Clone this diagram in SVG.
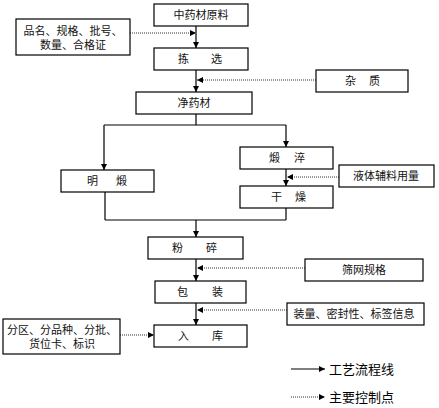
<svg xmlns="http://www.w3.org/2000/svg" width="439" height="408" viewBox="0 0 439 408">
<style>
.box{fill:#fff;stroke:#000;stroke-width:1.2}
.t{font-family:"Liberation Sans","Noto Sans CJK SC",sans-serif;font-size:11px;fill:#111}
.lg{font-family:"Liberation Sans","Noto Sans CJK SC",sans-serif;font-size:13px;fill:#000}
.s{fill:none;stroke:#000;stroke-width:1.2}
.d{fill:none;stroke:#333;stroke-width:1;stroke-dasharray:1 1}
</style>
<defs>
<marker id="ah" markerUnits="userSpaceOnUse" markerWidth="7" markerHeight="7" refX="6" refY="3" orient="auto">
<path d="M0,0 L6,3 L0,6 z" fill="#000"/>
</marker>
</defs>
<rect width="439" height="408" fill="#fff"/>
<g id="connectors">
<path class="s" d="M196,26 V48" marker-end="url(#ah)"/>
<path class="s" d="M196,70 V92" marker-end="url(#ah)"/>
<path class="s" d="M196,114 V125 M104,125 H286"/>
<path class="s" d="M104,125 V170" marker-end="url(#ah)"/>
<path class="s" d="M286,125 V147" marker-end="url(#ah)"/>
<path class="s" d="M286,169 V186" marker-end="url(#ah)"/>
<path class="s" d="M105,192 V220 M286,208 V220 M105,220 H286"/>
<path class="s" d="M196,220 V237" marker-end="url(#ah)"/>
<path class="s" d="M196,259 V281" marker-end="url(#ah)"/>
<path class="s" d="M196,303 V325" marker-end="url(#ah)"/>
<path class="d" d="M130,33 H196" marker-end="url(#ah)"/>
<path class="d" d="M316,80 H197" marker-end="url(#ah)"/>
<path class="d" d="M339,177 H287" marker-end="url(#ah)"/>
<path class="d" d="M305,268 H197" marker-end="url(#ah)"/>
<path class="d" d="M287,310 H197" marker-end="url(#ah)"/>
<path class="d" d="M120,335 H154" marker-end="url(#ah)"/>
</g>
<g id="n1"><rect class="box" x="154" y="4" width="94" height="22"/><text class="t" x="201" y="19" text-anchor="middle">中药材原料</text></g>
<g id="n2"><rect class="box" x="16" y="19" width="114" height="36"/><text class="t" x="73" y="35" text-anchor="middle">品名、规格、批号、</text><text class="t" x="73" y="49" text-anchor="middle">数量、合格证</text></g>
<g id="n3"><rect class="box" x="154" y="48" width="94" height="22"/><text class="t" x="178" y="63">拣<tspan x="211">选</tspan></text></g>
<g id="n4"><rect class="box" x="316" y="70" width="92" height="22"/><text class="t" x="345" y="85">杂<tspan x="369">质</tspan></text></g>
<g id="n5"><rect class="box" x="136" y="92" width="116" height="22"/><text class="t" x="194" y="107" text-anchor="middle">净药材</text></g>
<g id="n6"><rect class="box" x="61" y="170" width="93" height="22"/><text class="t" x="87" y="185">明<tspan x="116">煅</tspan></text></g>
<g id="n7"><rect class="box" x="240" y="147" width="93" height="22"/><text class="t" x="269" y="162">煅<tspan x="294">淬</tspan></text></g>
<g id="n8"><rect class="box" x="339" y="165" width="95" height="22"/><text class="t" x="386" y="180" text-anchor="middle">液体辅料用量</text></g>
<g id="n9"><rect class="box" x="240" y="186" width="93" height="22"/><text class="t" x="271" y="201">干<tspan x="295">燥</tspan></text></g>
<g id="n10"><rect class="box" x="148" y="237" width="95" height="22"/><text class="t" x="172" y="252">粉<tspan x="206">碎</tspan></text></g>
<g id="n11"><rect class="box" x="305" y="259" width="118" height="22"/><text class="t" x="364" y="274" text-anchor="middle">筛网规格</text></g>
<g id="n12"><rect class="box" x="155" y="281" width="91" height="22"/><text class="t" x="177" y="296">包<tspan x="212">装</tspan></text></g>
<g id="n13"><rect class="box" x="287" y="303" width="137" height="22"/><text class="t" x="354" y="318" text-anchor="middle">装量、密封性、标签信息</text></g>
<g id="n14"><rect class="box" x="154" y="325" width="93" height="22"/><text class="t" x="178" y="340">入<tspan x="212">库</tspan></text></g>
<g id="n15"><rect class="box" x="3" y="319" width="117" height="35"/><text class="t" x="62" y="334" text-anchor="middle">分区、分品种、分批、</text><text class="t" x="62" y="348" text-anchor="middle">货位卡、标识</text></g>
<g id="legend">
<path class="s" d="M291,369 H325" marker-end="url(#ah)"/>
<text class="lg" x="329" y="374">工艺流程线</text>
<path class="d" d="M291,397 H325" marker-end="url(#ah)"/>
<text class="lg" x="329" y="402">主要控制点</text>
</g>
</svg>
